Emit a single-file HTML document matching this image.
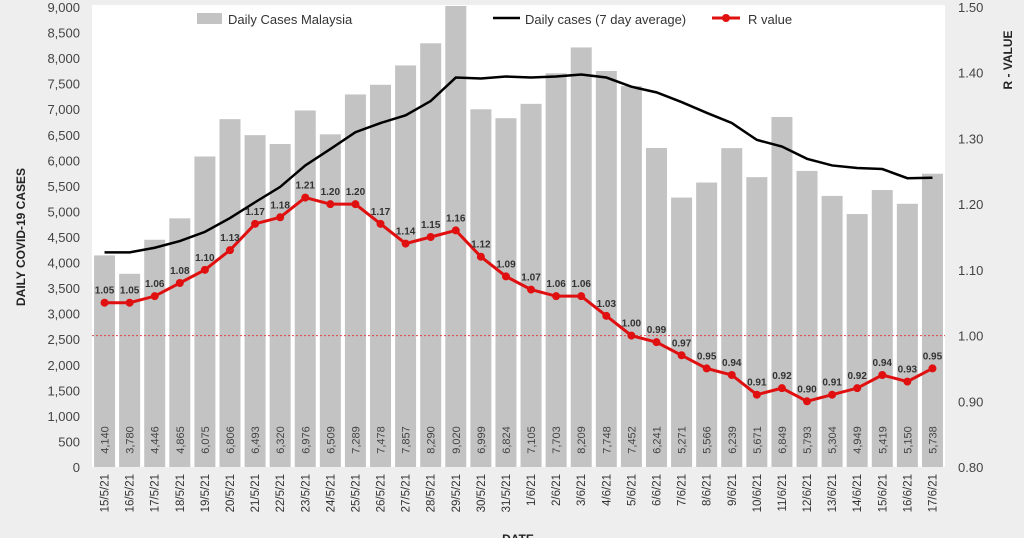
<!DOCTYPE html>
<html><head><meta charset="utf-8"><style>
body{margin:0;background:#eeeeee;}
svg{display:block;font-family:"Liberation Sans",sans-serif;}
</style></head><body>
<svg id="c" width="1024" height="538"></svg>
<script>
const dates=["15/5/21","16/5/21","17/5/21","18/5/21","19/5/21","20/5/21","21/5/21","22/5/21","23/5/21","24/5/21","25/5/21","26/5/21","27/5/21","28/5/21","29/5/21","30/5/21","31/5/21","1/6/21","2/6/21","3/6/21","4/6/21","5/6/21","6/6/21","7/6/21","8/6/21","9/6/21","10/6/21","11/6/21","12/6/21","13/6/21","14/6/21","15/6/21","16/6/21","17/6/21"];
const cases=[4140,3780,4446,4865,6075,6806,6493,6320,6976,6509,7289,7478,7857,8290,9020,6999,6824,7105,7703,8209,7748,7452,6241,5271,5566,6239,5671,6849,5793,5304,4949,5419,5150,5738];
const avg7=[4200,4200,4290,4420,4600,4870,5180,5480,5900,6220,6550,6730,6880,7160,7620,7600,7640,7620,7640,7680,7620,7440,7330,7140,6930,6730,6400,6270,6030,5900,5850,5830,5650,5660];
const rvals=[1.05,1.05,1.06,1.08,1.10,1.13,1.17,1.18,1.21,1.20,1.20,1.17,1.14,1.15,1.16,1.12,1.09,1.07,1.06,1.06,1.03,1.00,0.99,0.97,0.95,0.94,0.91,0.92,0.90,0.91,0.92,0.94,0.93,0.95];
const leftTicks=[0,500,1000,1500,2000,2500,3000,3500,4000,4500,5000,5500,6000,6500,7000,7500,8000,8500,9000];
const rightTicks=[0.80,0.90,1.00,1.10,1.20,1.30,1.40,1.50];
const svg=document.getElementById('c');const NS='http://www.w3.org/2000/svg';
const X0=92,X1=945,Y0=467,Y1=7;
const step=(X1-X0)/dates.length;
const xc=i=>X0+step*(i+0.5);
const yL=v=>Y0-(v/9000)*(Y0-Y1);
const yR=v=>Y0-((v-0.8)/0.7)*(Y0-Y1);
function mk(t,a,txt){const e=document.createElementNS(NS,t);for(const k in a)e.setAttribute(k,a[k]);if(txt!=null)e.textContent=txt;svg.appendChild(e);return e;}
let e=mk('rect',{x:X0,y:Y1-2,width:X1-X0,height:Y0-Y1+2,fill:'#fff'});


leftTicks.forEach(v=>{const t=mk('text',{x:80,y:yL(v)+5,'text-anchor':'end','font-size':13,fill:'#444'},v.toLocaleString('en-US'));

});
rightTicks.forEach(v=>{const t=mk('text',{x:958,y:yR(v)+5,'font-size':13,fill:'#444'},v.toFixed(2));

});
cases.forEach((v,i)=>{const b=mk('rect',{x:xc(i)-10.5,y:yL(v),width:21,height:Y0-yL(v),fill:'#c3c3c3'});


const t=mk('text',{x:0,y:0,transform:`translate(${xc(i)+4},440) rotate(-90)`,'text-anchor':'middle','font-size':11,fill:'#444'},v.toLocaleString('en-US'));


const d=mk('text',{x:0,y:0,transform:`translate(${xc(i)+4},474) rotate(-90)`,'text-anchor':'end','font-size':11.5,fill:'#333'},dates[i]);

});
e=mk('line',{x1:X0,x2:X1,y1:yR(1),y2:yR(1),stroke:'#d44',"stroke-width":1,"stroke-dasharray":"2,2"});


e=mk('polyline',{points:avg7.map((v,i)=>xc(i)+','+yL(v)).join(' '),fill:'none',stroke:'#000','stroke-width':2.5});


e=mk('polyline',{points:rvals.map((v,i)=>xc(i)+','+yR(v)).join(' '),fill:'none',stroke:'#e01010','stroke-width':3});


rvals.forEach((v,i)=>{const c=mk('circle',{cx:xc(i),cy:yR(v),r:4,fill:'#e01010'});


const t=mk('text',{x:xc(i),y:yR(v)-9,'text-anchor':'middle','font-size':10,'font-weight':'bold',fill:'#333'},v.toFixed(2));

});
e=mk('text',{x:0,y:0,transform:'translate(25,237) rotate(-90)','text-anchor':'middle','font-size':12,'font-weight':'bold',fill:'#222'},'DAILY COVID-19 CASES');


e=mk('text',{x:0,y:0,transform:'translate(1012,60) rotate(-90)','text-anchor':'middle','font-size':12,'font-weight':'bold',fill:'#222'},'R - VALUE');


e=mk('text',{x:518,y:543,'text-anchor':'middle','font-size':12,'font-weight':'bold',fill:'#222'},'DATE');


e=mk('rect',{x:197,y:13,width:25,height:11,fill:'#c3c3c3'});


e=mk('text',{x:228,y:24,'font-size':13,fill:'#333'},'Daily Cases Malaysia');


e=mk('line',{x1:493,x2:520,y1:18,y2:18,stroke:'#000','stroke-width':2.5});


e=mk('text',{x:525,y:24,'font-size':13,fill:'#333'},'Daily cases (7 day average)');


e=mk('line',{x1:712,x2:740,y1:18,y2:18,stroke:'#e01010','stroke-width':3});


e=mk('circle',{cx:726,cy:18,r:4,fill:'#e01010'});


e=mk('text',{x:748,y:24,'font-size':13,fill:'#333'},'R value');


</script></body></html>
